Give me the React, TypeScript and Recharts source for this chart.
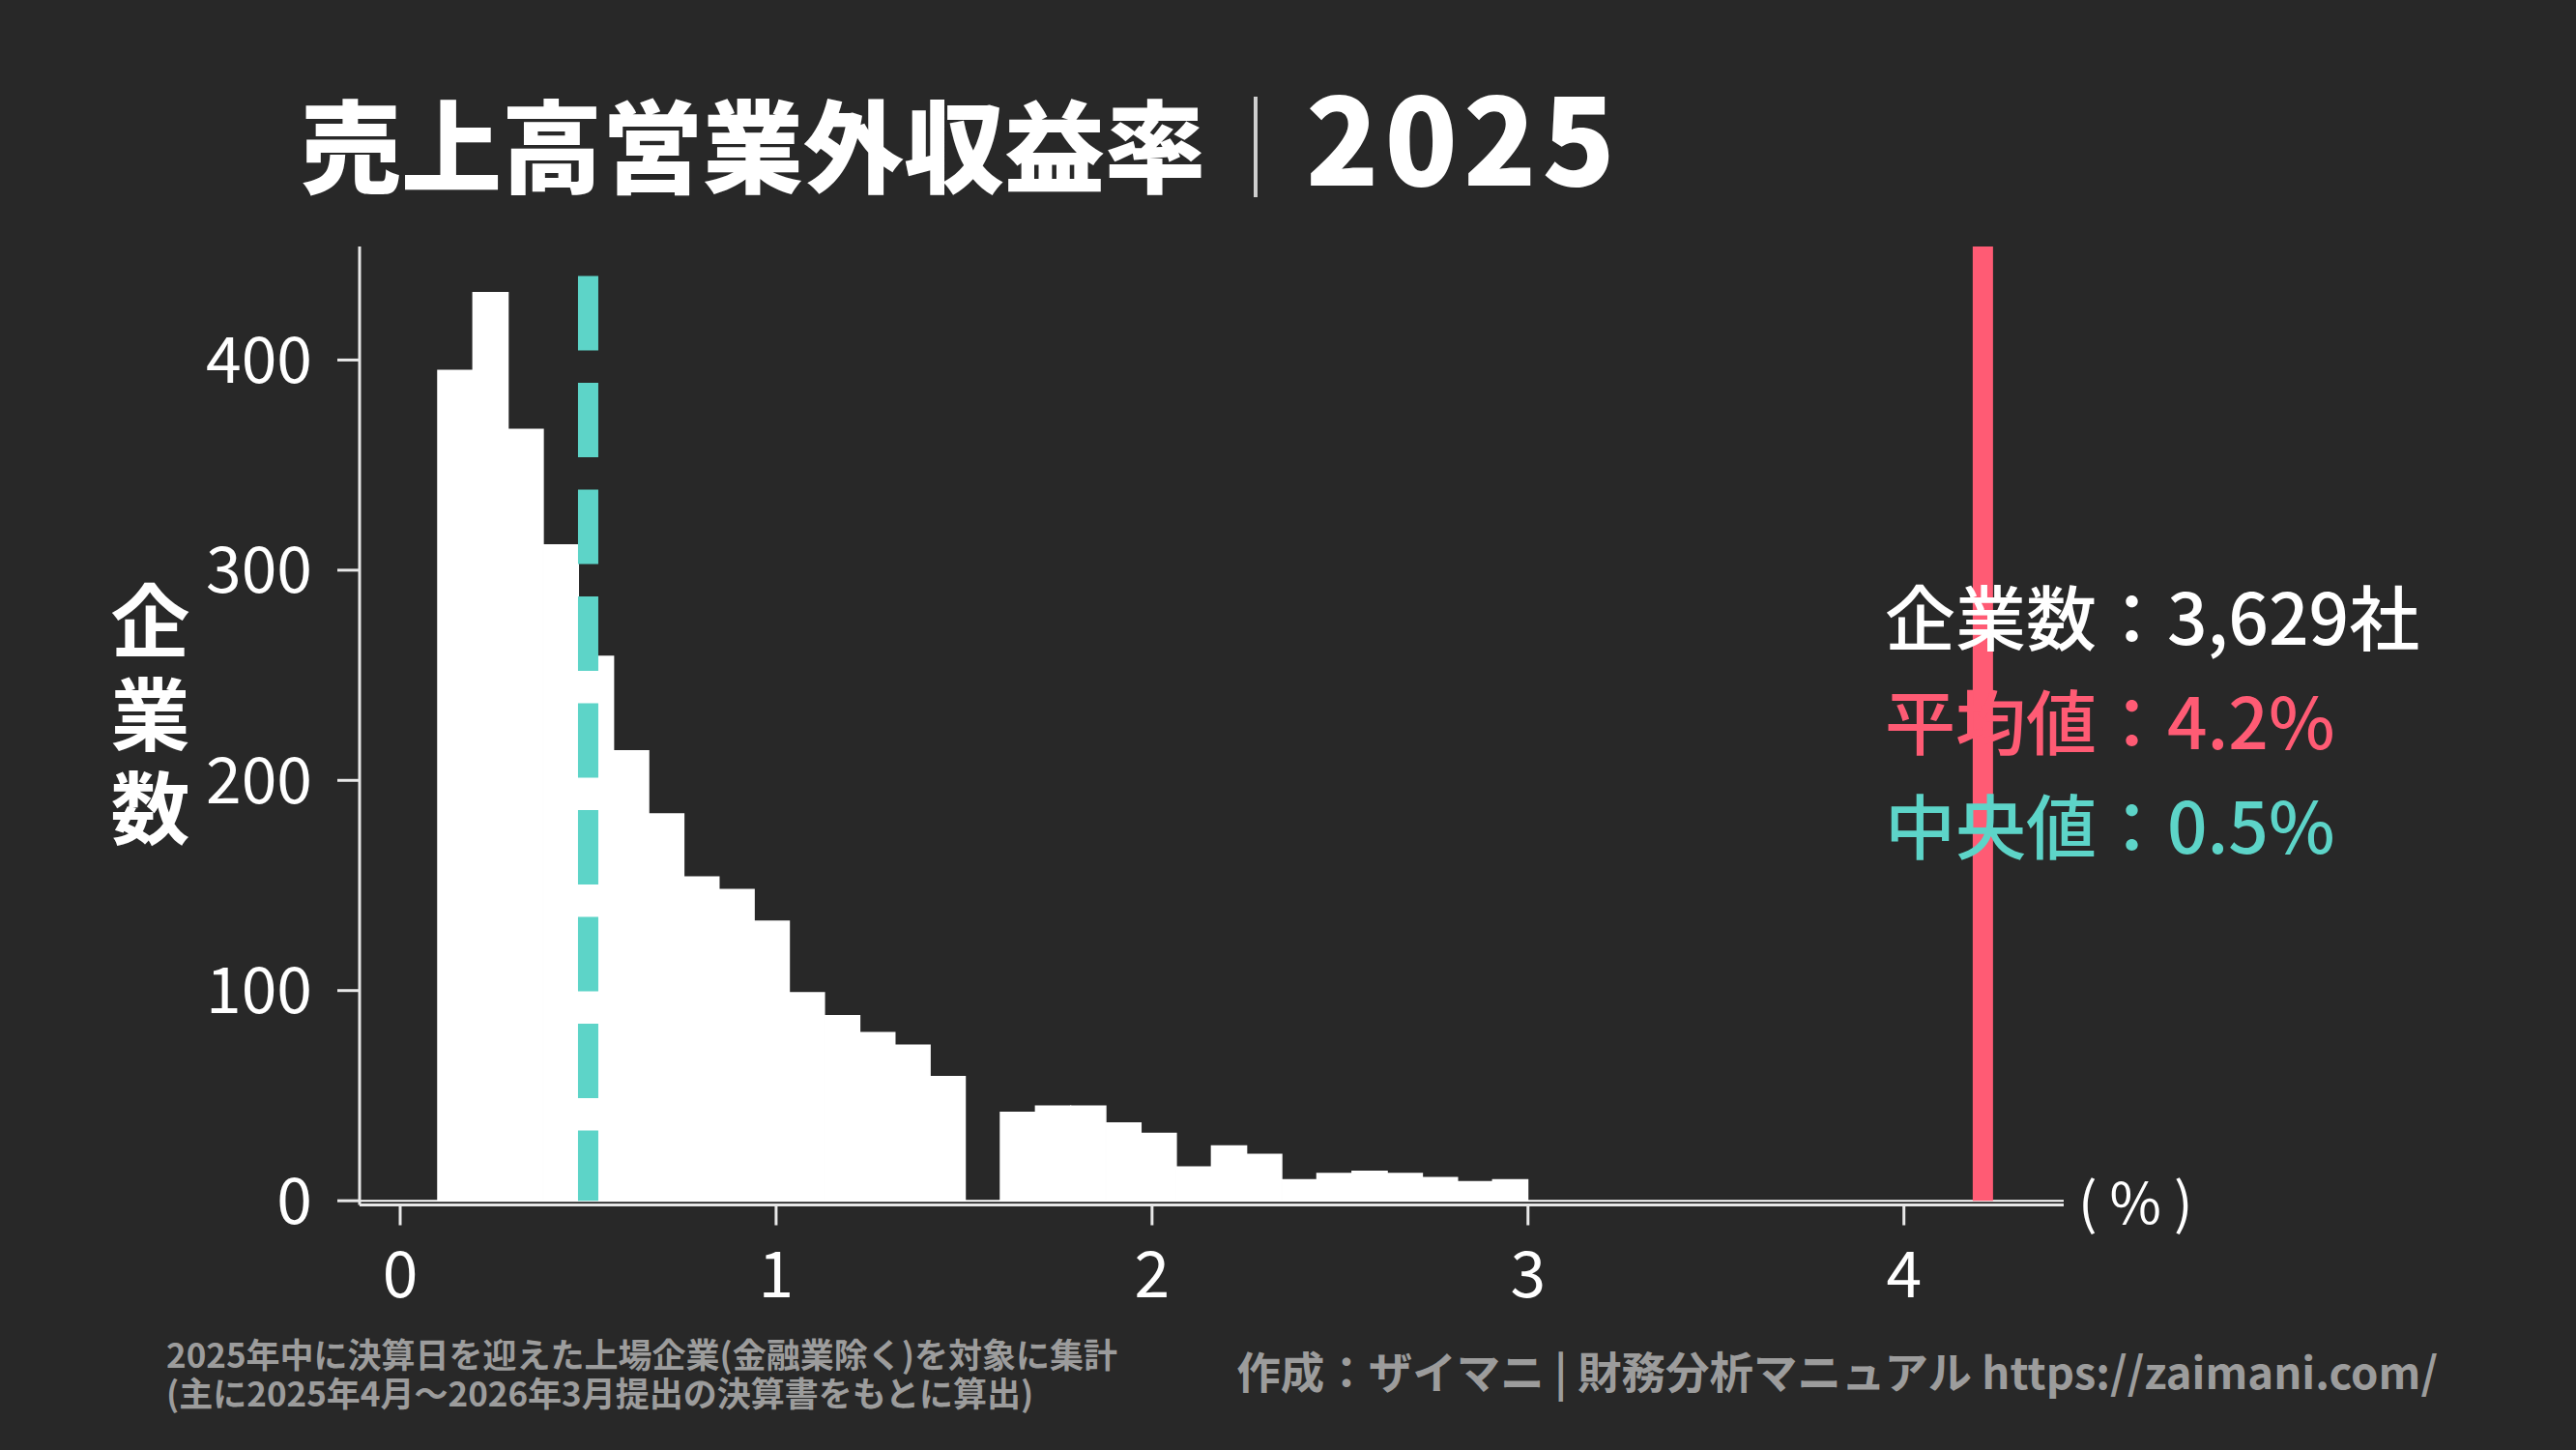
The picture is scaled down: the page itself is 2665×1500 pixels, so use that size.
import React from 'react';
import { ComposedChart, Bar, XAxis, YAxis, ReferenceLine } from 'recharts';

// ---- data ----
const binEdges = [
  0.1, 0.194, 0.287, 0.381, 0.474, 0.568, 0.661, 0.755, 0.848, 0.942,
  1.035, 1.129, 1.223, 1.316, 1.41, 1.503, 1.597, 1.69, 1.784, 1.877,
  1.971, 2.065, 2.158, 2.252, 2.345, 2.439, 2.532, 2.626, 2.719, 2.813,
  2.906, 3.0,
];
const binCounts = [
  395, 432, 367, 312, 259, 214, 184, 154, 148, 133,
  99, 88, 80, 74, 59, 0, 42, 45, 45, 37,
  32, 16, 26, 22, 10, 13, 14, 13, 11, 9,
  10,
];
const xTicks = [0, 1, 2, 3, 4];
const yTicks = [0, 100, 200, 300, 400];
const meanValue = 4.21;
const medianValue = 0.5;
const medianLineTop = 440;
const titleMain = '売上高営業外収益率';
const titleYear = '2025';
const companyLine = { label: '企業数：', value: '3,629社' };
const meanLine = { label: '平均値：', value: '4.2%' };
const medianLine = { label: '中央値：', value: '0.5%' };
const yLabel = '企業数';
const unitLabel = '( % )';
const noteLines = [
  '2025年中に決算日を迎えた上場企業(金融業除く)を対象に集計',
  '(主に2025年4月～2026年3月提出の決算書をもとに算出)',
];
const creditText = '作成：ザイマニ | 財務分析マニュアル https://zaimani.com/';

// ---- layout / style ----
const W = 2665;
const H = 1500;
const PLOT_L = 372;
const PLOT_R = 2135;
const PLOT_T = 255;
const PLOT_B = 1246.5;
const X_DOMAIN: [number, number] = [-0.108, 4.425];
const Y_DOMAIN: [number, number] = [-2, 454];
const YAXIS_W = 150;
const XAXIS_H = 100;
const BG = '#282828';
const RED = '#FF5B74';
const TEAL = '#5DD4C8';
const AXIS = '#e8e8e8';
const GREY = '#9c9c9c';
const FONT = '"Noto Sans CJK JP", "Noto Sans", sans-serif';

const data = binCounts.map((count, i) => ({
  center: (binEdges[i] + binEdges[i + 1]) / 2,
  count,
}));
const pxPerUnit = (PLOT_R - PLOT_L) / (X_DOMAIN[1] - X_DOMAIN[0]);
let minGap = Infinity;
for (let i = 1; i < data.length; i++) {
  minGap = Math.min(minGap, data[i].center - data[i - 1].center);
}
const barWidth = minGap * pxPerUnit * 0.995;

export default function App() {
  return (
    <div
      style={{
        position: 'absolute',
        left: 0,
        top: 0,
        width: W,
        height: H,
        background: BG,
        fontFamily: FONT,
        overflow: 'hidden',
      }}
    >
      <ComposedChart
        width={W}
        height={H}
        data={data}
        margin={{
          top: PLOT_T,
          right: W - PLOT_R,
          bottom: H - PLOT_B - XAXIS_H,
          left: PLOT_L - YAXIS_W,
        }}
      >
        <XAxis
          type="number"
          dataKey="center"
          domain={X_DOMAIN}
          ticks={xTicks}
          allowDataOverflow
          height={XAXIS_H}
          axisLine={{ stroke: AXIS, strokeWidth: 3 }}
          tickLine={{ stroke: AXIS, strokeWidth: 3 }}
          tickSize={21}
          tickMargin={28}
          tick={{ fill: '#ffffff', fontSize: 66, fontFamily: FONT }}
        />
        <YAxis
          type="number"
          domain={Y_DOMAIN}
          ticks={yTicks}
          allowDataOverflow
          width={YAXIS_W}
          axisLine={{ stroke: AXIS, strokeWidth: 3 }}
          tickLine={{ stroke: AXIS, strokeWidth: 3 }}
          tickSize={23}
          tickMargin={26}
          tick={{ fill: '#ffffff', fontSize: 66, fontFamily: FONT }}
        />
        <ReferenceLine y={0} stroke="#ffffff" strokeWidth={2} />
        <Bar
          dataKey="count"
          fill="#ffffff"
          stroke="#ffffff"
          strokeWidth={1.5}
          barSize={barWidth}
          isAnimationActive={false}
        />
        <ReferenceLine
          segment={[
            { x: medianValue, y: medianLineTop },
            { x: medianValue, y: 0 },
          ]}
          stroke={TEAL}
          strokeWidth={21}
          strokeDasharray="77 33.5"
        />
        <ReferenceLine
          segment={[
            { x: meanValue, y: 0 },
            { x: meanValue, y: Y_DOMAIN[1] },
          ]}
          stroke={RED}
          strokeWidth={21}
        />
      </ComposedChart>

      <svg
        width={W}
        height={H}
        style={{ position: 'absolute', left: 0, top: 0, pointerEvents: 'none' }}
        fontFamily={FONT}
      >
        <text x={311} y={192} fontSize={104} fontWeight={900} fill="#ffffff">
          {titleMain}
          <tspan fill="#cfcfcf" fontWeight={300}>｜</tspan>
          <tspan fontSize={124} letterSpacing={6}>{titleYear}</tspan>
        </text>

        <text x={2150} y={1266} fontSize={58} fill="#ffffff">
          {unitLabel}
        </text>

        <text x={1950} y={667} fontSize={73} fontWeight={500} fill="#ffffff">
          {companyLine.label + companyLine.value}
        </text>
        <text x={1950} y={775} fontSize={73} fontWeight={500} fill={RED}>
          {meanLine.label + meanLine.value}
        </text>
        <text x={1950} y={883} fontSize={73} fontWeight={500} fill={TEAL}>
          {medianLine.label + medianLine.value}
        </text>

        <text
          x={2522}
          y={1437}
          fontSize={45.5}
          fontWeight={700}
          fill={GREY}
          textAnchor="end"
        >
          {creditText}
        </text>
      </svg>

      <div
        style={{
          position: 'absolute',
          left: 105,
          top: 601,
          width: 100,
          height: 300,
          writingMode: 'vertical-rl',
          fontSize: 82,
          lineHeight: '100px',
          letterSpacing: '15px',
          fontWeight: 700,
          color: '#ffffff',
        }}
      >
        {yLabel}
      </div>

      <div
        style={{
          position: 'absolute',
          left: 172,
          top: 1380,
          fontSize: 35,
          lineHeight: '40px',
          fontWeight: 700,
          color: GREY,
          whiteSpace: 'pre',
        }}
      >
        {noteLines.join('\n')}
      </div>
    </div>
  );
}
